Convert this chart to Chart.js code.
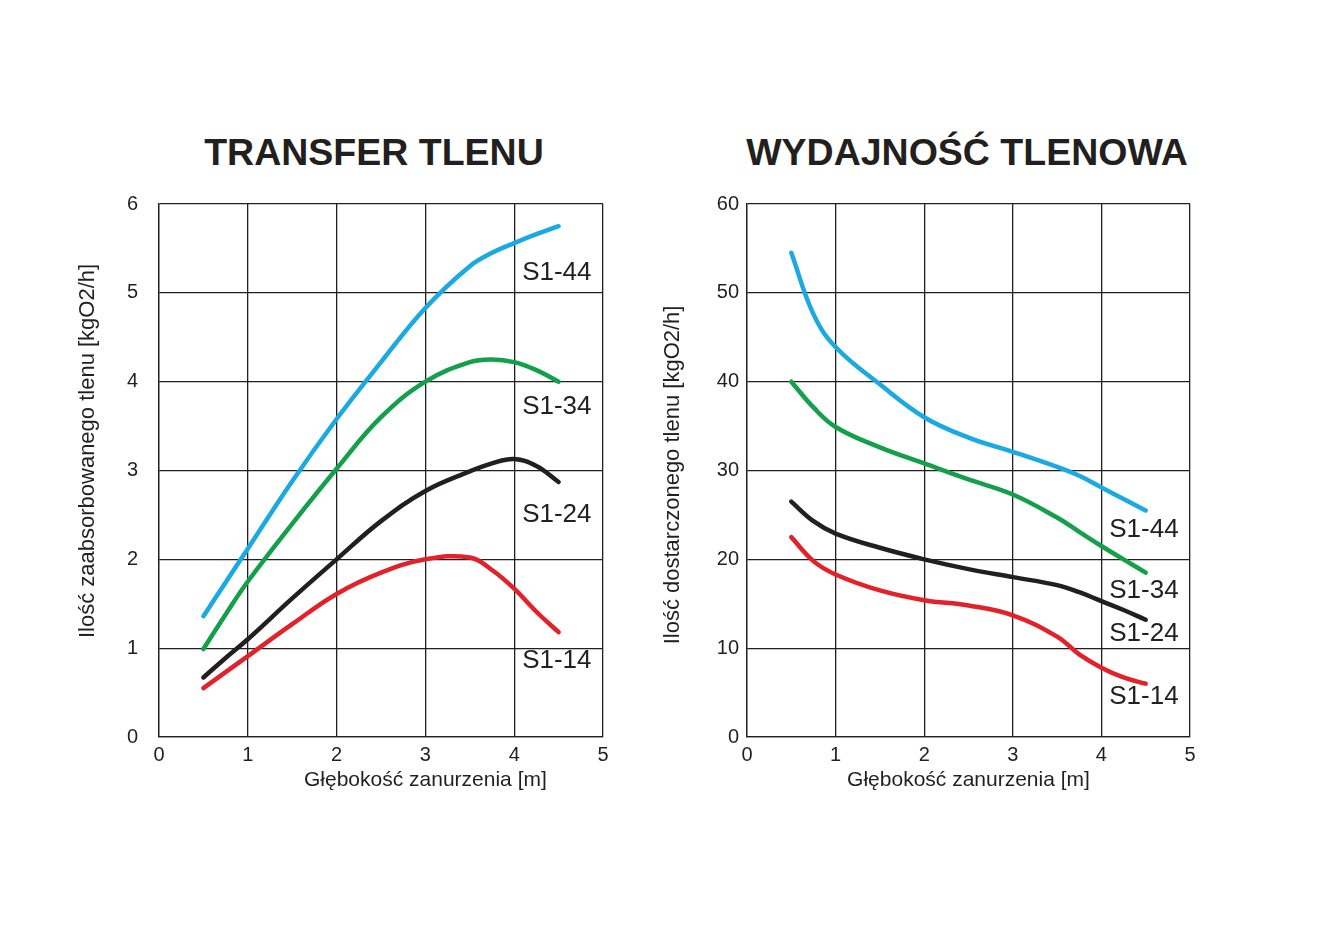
<!DOCTYPE html>
<html>
<head>
<meta charset="utf-8">
<script src="https://cdn.jsdelivr.net/npm/chart.js@4/dist/chart.umd.min.js"></script>
<style>
    body { margin: 0; background: #fff; font-family: "Liberation Sans", Arial, sans-serif; }
    .title { position: absolute; top: 131px; font-weight: bold; font-size: 37.5px; color: #231f20; transform: translateX(-50%); white-space: nowrap; }
    .box { position: absolute; }
</style>
</head>
<body>
<div class="title" style="left:374px">TRANSFER TLENU</div>
<div class="title" style="left:967px">WYDAJNOŚĆ TLENOWA</div>
<div class="box" style="left:40px; top:171px; width:600px; height:649px"><canvas id="transferChart"></canvas></div>
<div class="box" style="left:660px; top:180px; width:600px; height:640px"><canvas id="outputChart"></canvas></div>
<script>
const depths = [0.5, 0.75, 1, 1.5, 2, 2.5, 3, 3.5, 3.75, 4, 4.25, 4.5];
const seriesNames = ['S1-44', 'S1-34', 'S1-24', 'S1-14'];
const seriesColors = ['#1ba9e1', '#14a04b', '#231f20', '#e3212b'];

// transfer tlenu [kgO2/h]
const transfer44 = [1.36, 1.74, 2.12, 2.88, 3.58, 4.22, 4.83, 5.30, 5.45, 5.56, 5.66, 5.75];
const transfer34 = [0.99, 1.38, 1.75, 2.40, 3.02, 3.60, 4.0, 4.22, 4.25, 4.22, 4.13, 4.0];
const transfer24 = [0.67, 0.89, 1.10, 1.56, 2.0, 2.43, 2.77, 2.99, 3.08, 3.13, 3.05, 2.87];
const transfer14 = [0.55, 0.73, 0.91, 1.27, 1.61, 1.85, 2.0, 2.02, 1.88, 1.67, 1.41, 1.18];

// wydajnosc tlenowa [kgO2/h]
const output44 = [54.5, 47.6, 43.9, 39.7, 36.0, 33.7, 32.1, 30.4, 29.4, 28.1, 26.8, 25.5];
const output34 = [40.0, 37.1, 34.9, 32.6, 30.8, 29.0, 27.3, 24.7, 23.1, 21.5, 20.0, 18.5];
const output24 = [26.5, 24.3, 22.9, 21.3, 20.0, 18.9, 18.0, 17.1, 16.3, 15.3, 14.3, 13.2];
const output14 = [22.5, 19.8, 18.3, 16.5, 15.4, 14.8, 13.7, 11.3, 9.3, 7.8, 6.7, 6.0];

// where the series names sit (axis units)
const transferLabelY = [5.22, 3.72, 2.5, 0.86];
const outputLabelY = [23.3, 16.4, 11.6, 4.5];
const labelX = 4.48;

const ink = '#231f20';
const fontFamily = '"Liberation Sans", Arial, sans-serif';

// series names inside the plot, plus both axis titles
const curveLabels = {
    id: 'curveLabels',
    afterDraw(chart, args, opts) {
        const ctx = chart.ctx;
        const x = chart.scales.x, y = chart.scales.y;
        const area = chart.chartArea;
        ctx.save();
        ctx.fillStyle = ink;
        ctx.textAlign = 'center';
        ctx.textBaseline = 'middle';
        ctx.font = '26px ' + fontFamily;
        opts.names.forEach((name, i) => {
            ctx.fillText(name, x.getPixelForValue(labelX), y.getPixelForValue(opts.ys[i]));
        });
        ctx.font = '21px ' + fontFamily;
        ctx.fillText(opts.xTitle, x.getPixelForValue(opts.xTitleAt), area.bottom + 43);
        ctx.translate(area.left - opts.yTitleGap, y.getPixelForValue(opts.yTitleAt));
        ctx.rotate(-Math.PI / 2);
        ctx.font = '22px ' + fontFamily;
        ctx.fillText(opts.yTitle, 0, 0);
        ctx.restore();
    }
};

function makeChart(id, lists, yMax, yStep, text, axisWidth, tickPad, rightPad) {
    const datasets = lists.map((values, i) => ({
        label: seriesNames[i],
        data: depths.map((d, j) => ({ x: d, y: values[j] })),
        borderColor: seriesColors[i],
        borderWidth: 4.5,
        pointRadius: 0,
        tension: 0.4,
        borderCapStyle: 'round'
    }));
    const grid = { color: ink, lineWidth: 1.3, drawTicks: false };
    const border = { color: ink, width: 1.3 };
    const tickFont = { family: fontFamily, size: 20 };
    return new Chart(document.getElementById(id), {
        type: 'line',
        data: { datasets },
        plugins: [curveLabels],
        options: {
            responsive: true,
            maintainAspectRatio: false,
            animation: false,
            layout: { padding: { top: 24, right: rightPad, left: 0, bottom: 0 } },
            plugins: {
                legend: { display: false },
                tooltip: { enabled: false },
                curveLabels: Object.assign({ names: seriesNames, xTitle: 'Głębokość zanurzenia [m]' }, text)
            },
            scales: {
                x: {
                    type: 'linear', min: 0, max: 5,
                    ticks: { stepSize: 1, color: ink, font: tickFont, padding: 6, maxRotation: 0 },
                    grid, border,
                    afterFit: s => { s.height = 83; }
                },
                y: {
                    min: 0, max: yMax,
                    ticks: { stepSize: yStep, color: ink, font: tickFont, padding: tickPad },
                    grid, border,
                    afterFit: s => { s.width = axisWidth; }
                }
            }
        }
    });
}

makeChart('transferChart', [transfer44, transfer34, transfer24, transfer14], 6, 1,
    { ys: transferLabelY, xTitleAt: 3.0, yTitle: 'Ilość zaabsorbowanego tlenu [kgO2/h]', yTitleAt: 3.22, yTitleGap: 71 },
    119, 21, 37);
makeChart('outputChart', [output44, output34, output24, output14], 60, 10,
    { ys: outputLabelY, xTitleAt: 2.5, yTitle: 'Ilość dostarczonego tlenu [kgO2/h]', yTitleAt: 29.5, yTitleGap: 74 },
    87, 8, 70);
</script>
</body>
</html>
